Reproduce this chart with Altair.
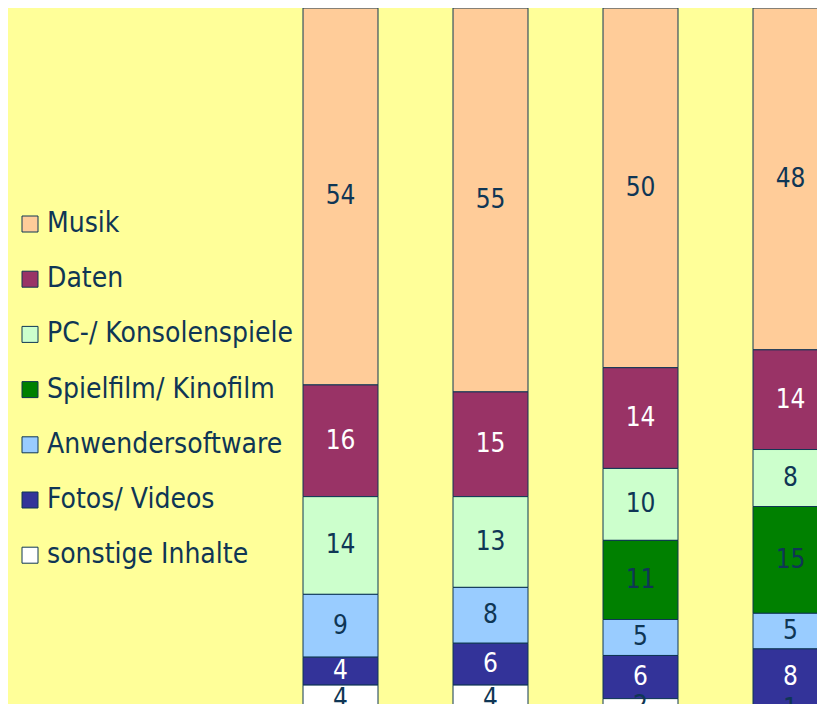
import altair as alt
import pandas as pd

bars = ["1", "2", "3", "4"]
categories = ["Musik", "Daten", "PC-/ Konsolenspiele", "Spielfilm/ Kinofilm",
              "Anwendersoftware", "Fotos/ Videos", "sonstige Inhalte"]
colors = ["#FFCC99", "#993366", "#CCFFCC", "#008000", "#99CCFF", "#333399", "#FFFFFF"]
white_label = ["Daten", "Fotos/ Videos"]

musik = [54, 55, 50, 48]
daten = [16, 15, 14, 14]
pc = [14, 13, 10, 8]
spielfilm = [0, 0, 11, 15]
anwender = [9, 8, 5, 5]
fotos = [4, 6, 6, 8]
sonstige = [4, 4, 2, 1]

series = [musik, daten, pc, spielfilm, anwender, fotos, sonstige]

NAVY = "#0F3655"
FONT = "DejaVu Sans Condensed, DejaVu Sans"

rows = []
for ci, (cat, vals) in enumerate(zip(categories, series)):
    for b, v in zip(bars, vals):
        rows.append({"bar": b, "cat": cat, "ord": ci, "value": v,
                     "tcol": "white" if cat in white_label else NAVY})
df = pd.DataFrame(rows)

base = (
    alt.Chart(df)
    .transform_joinaggregate(total="sum(value)", groupby=["bar"])
    .transform_calculate(frac="datum.value / datum.total")
    .transform_stack(stack="frac", groupby=["bar"], as_=["y0", "y1"],
                     sort=[alt.SortField("ord", order="descending")])
    .transform_calculate(mid="(datum.y0 + datum.y1) / 2")
    .transform_filter("datum.value > 0")
)

xenc = alt.X("bar:N", sort=bars,
             scale=alt.Scale(range=[257.5, 857.5], paddingInner=0.5, paddingOuter=0.25),
             axis=None)
yscale = alt.Scale(domain=[0.0128, 1], nice=False, zero=False)

bar_layer = base.mark_bar(stroke=NAVY, strokeWidth=1, clip=True, opacity=1).encode(
    x=xenc,
    y=alt.Y("y0:Q", scale=yscale, axis=None),
    y2="y1:Q",
    color=alt.Color(
        "cat:N",
        scale=alt.Scale(domain=categories, range=colors),
        legend=alt.Legend(
            orient="none", legendX=8, legendY=202, title=None,
            symbolType="square", symbolSize=256, symbolStrokeColor=NAVY,
            symbolStrokeWidth=1, symbolOpacity=1,
            labelFont=FONT, labelFontSize=28, labelColor=NAVY,
            labelOffset=3, rowPadding=27.2, padding=0, labelLimit=400,
        ),
    ),
)

text_layer = base.mark_text(font=FONT, fontSize=26, baseline="middle", clip=True).encode(
    x=xenc,
    y=alt.Y("mid:Q", scale=yscale, axis=None),
    text="value:Q",
    color=alt.Color("tcol:N", scale=None),
)

chart = (
    alt.layer(bar_layer, text_layer)
    .properties(width=809, height=696, padding=0,
                autosize=alt.AutoSizeParams(type="none"),
                background="#FFFF99")
    .configure_view(stroke=None)
)

chart.save("out.html", embed_options={"renderer": "svg", "actions": False})
